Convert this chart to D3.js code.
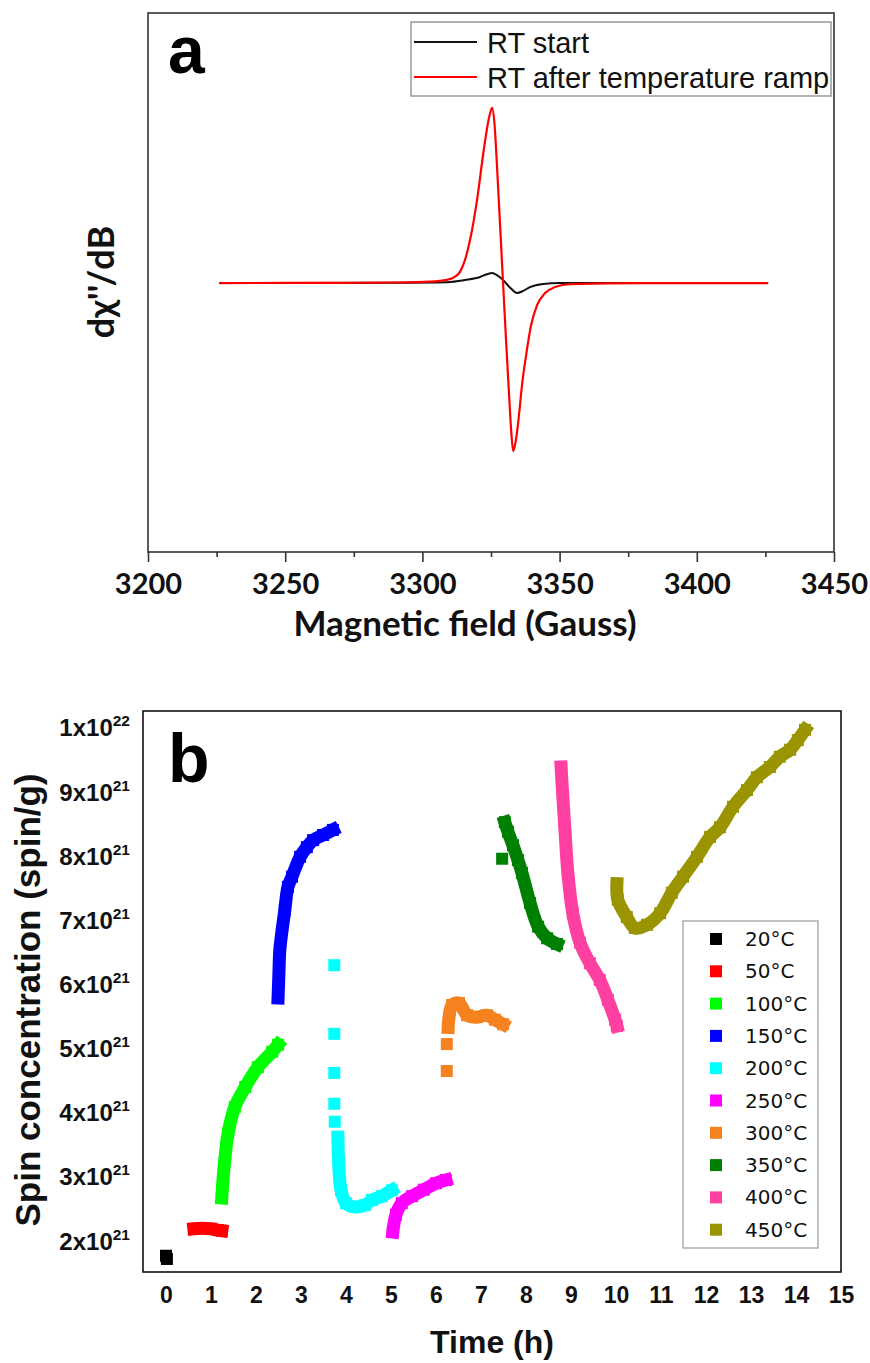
<!DOCTYPE html>
<html><head><meta charset="utf-8">
<script src="https://cdn.jsdelivr.net/npm/d3@7"></script>
<style>body{margin:0;background:#fff} svg{display:block}</style>
</head><body>
<svg id="c" width="870" height="1363"></svg>
<script>
// ---------- Panel a data ----------
const fieldTicks = [3200, 3250, 3300, 3350, 3400, 3450];
const fieldMinorTicks = [3225, 3275, 3325, 3375, 3425];
const legendA = ["RT start", "RT after temperature ramp"];
const colorsA = ["#111111", "#ff0000"];
// [field (G), dχ''/dB (arb.)]
const rtStart = [[3226,0],[3290,0.002],[3309,0.005],[3315.5,0.017],[3321,0.034],[3323.5,0.05],[3325.4,0.057],
  [3327.2,0.045],[3329.4,0.017],[3331.9,-0.025],[3334.5,-0.057],[3336.7,-0.045],[3339.2,-0.023],[3344,-0.005],
  [3350,0],[3426,0]];
const rtAfter = [[3226,0],[3270,0.001],[3290,0.003],[3302.8,0.008],[3309,0.018],[3311.9,0.036],[3313.7,0.063],
  [3315.5,0.13],[3317.3,0.24],[3319.9,0.47],[3322.4,0.76],[3324.3,0.94],[3325.4,0.995],[3326.3,0.90],
  [3327.2,0.66],[3328.3,0.33],[3329.4,0],[3330.5,-0.33],[3331.6,-0.64],[3332.5,-0.87],[3333.1,-0.955],
  [3334.1,-0.89],[3335.2,-0.75],[3336.3,-0.58],[3337.8,-0.41],[3339.6,-0.24],[3341.8,-0.125],[3344.7,-0.057],
  [3348.3,-0.023],[3353.8,-0.006],[3380,0],[3426,0]];

// ---------- Panel b data ----------
const timeTicks = [0,1,2,3,4,5,6,7,8,9,10,11,12,13,14,15];
const spinTicks = [2,3,4,5,6,7,8,9,10];            // x10^21 spin/g
const spinTickMain = ["2x10","3x10","4x10","5x10","6x10","7x10","8x10","9x10","1x10"];
const spinTickExp  = ["21","21","21","21","21","21","21","21","22"];
const tempLabels = ["20°C","50°C","100°C","150°C","200°C","250°C","300°C","350°C","400°C","450°C"];
const tempColors = ["#000000","#ff0000","#00ff00","#0000ff","#00ffff","#ff00ff","#f5821f","#008000","#ff40a2","#9a9400"];
// [time (h), spin concentration (x10^21 spin/g)]
const s20Points = [[0,1.77],[0.02,1.72]];
const s50Band = [[0.62,2.19],[0.8,2.2],[1.0,2.19],[1.15,2.17],[1.24,2.16]];
const s100Band = [[1.24,2.67],[1.29,3.15],[1.38,3.68],[1.53,4.09],[1.76,4.40],[2.04,4.71],[2.36,4.95],[2.49,5.06]];
const s150Band = [[2.49,5.79],[2.51,6.18],[2.53,6.54],[2.64,7.16],[2.71,7.52],[2.80,7.68],[2.98,7.99],[3.13,8.14],[3.27,8.25],[3.49,8.33],[3.71,8.41]];
const s200Points = [[3.74,6.30],[3.74,5.23],[3.74,4.62],[3.74,4.14],[3.75,3.86]];
const s200Band = [[3.82,3.62],[3.84,3.18],[3.89,2.79],[4.0,2.59],[4.2,2.53],[4.42,2.56],[4.58,2.64],[4.8,2.70],[5.02,2.79]];
const s250Band = [[5.04,2.14],[5.11,2.41],[5.24,2.59],[5.47,2.70],[5.73,2.80],[6.0,2.90],[6.22,2.95]];
const s300Points = [[6.24,4.65],[6.24,5.07]];
const s300Band = [[6.27,5.33],[6.36,5.68],[6.51,5.71],[6.69,5.52],[6.91,5.49],[7.13,5.52],[7.31,5.45],[7.49,5.38]];
const s350Points = [[7.47,7.96]];
const s350Band = [[7.53,8.53],[7.60,8.38],[7.71,8.17],[7.82,7.94],[7.91,7.74],[8.09,7.27],[8.27,6.90],[8.47,6.72],[8.69,6.63]];
const s400Band = [[8.78,9.39],[8.80,9.14],[8.87,8.36],[8.93,7.74],[9.04,7.11],[9.2,6.65],[9.42,6.33],[9.64,6.07],[9.82,5.76],[9.98,5.45],[10.02,5.35]];
const s450Band = [[10.02,7.57],[10.04,7.32],[10.24,7.05],[10.42,6.88],[10.69,6.93],[10.98,7.11],[11.24,7.43],[11.49,7.68],
  [11.80,7.99],[12.09,8.30],[12.31,8.45],[12.6,8.77],[12.91,9.03],[13.13,9.23],[13.42,9.39],[13.64,9.55],[13.87,9.66],[14.04,9.81],[14.2,9.97]];

const seriesB = [
  {pts: s20Points, band: []},
  {pts: [], band: s50Band},
  {pts: [], band: s100Band},
  {pts: [], band: s150Band},
  {pts: s200Points, band: s200Band},
  {pts: [], band: s250Band},
  {pts: s300Points, band: s300Band},
  {pts: s350Points, band: s350Band},
  {pts: [], band: s400Band},
  {pts: [], band: s450Band}
];

const svg = d3.select("#c");
const ARIAL = "'Liberation Sans', Arial, sans-serif";
const CAL = "Lato, 'Liberation Sans', sans-serif";

// ================= Panel a =================
const xa = d3.scaleLinear().domain([3200, 3450]).range([148, 834]);
const ya = d3.scaleLinear().domain([-1.528, 1.534]).range([552, 13]);
const ga = svg.append("g");

const axA = ga.append("g").attr("transform", "translate(0,552)")
  .call(d3.axisBottom(xa).tickValues(fieldTicks).tickSize(10).tickPadding(11).tickFormat(d3.format("d")));
axA.select(".domain").remove();
axA.selectAll("line").attr("stroke", "#333").attr("stroke-width", 1.6);
axA.selectAll("text").attr("font-family", CAL).attr("font-weight", "bold").attr("font-size", 29).attr("fill", "#111");
const axAm = ga.append("g").attr("transform", "translate(0,552)")
  .call(d3.axisBottom(xa).tickValues(fieldMinorTicks).tickSize(5).tickFormat(""));
axAm.select(".domain").remove();
axAm.selectAll("line").attr("stroke", "#333").attr("stroke-width", 1.6);

const lineA = d3.line().x(d => xa(d[0])).y(d => ya(d[1])).curve(d3.curveMonotoneX);
[rtStart, rtAfter].forEach((s, i) => {
  ga.append("path").attr("d", lineA(s)).attr("fill", "none").attr("stroke", colorsA[i])
    .attr("stroke-width", i ? 2.2 : 2).attr("stroke-linejoin", "round");
});

ga.append("rect").attr("x", 148).attr("y", 13).attr("width", 686).attr("height", 539)
  .attr("fill", "none").attr("stroke", "#333").attr("stroke-width", 1.6);

// legend a
const lgA = ga.append("g");
lgA.append("rect").attr("x", 411).attr("y", 22).attr("width", 420).attr("height", 74)
  .attr("fill", "#fff").attr("stroke", "#999").attr("stroke-width", 1.5);
legendA.forEach((t, i) => {
  const y = 42 + i * 35;
  lgA.append("line").attr("x1", 414).attr("x2", 477).attr("y1", y).attr("y2", y)
    .attr("stroke", colorsA[i]).attr("stroke-width", 2.2);
  lgA.append("text").attr("x", 487).attr("y", y + 10.5).text(t)
    .attr("font-family", ARIAL).attr("font-size", 29).attr("fill", "#111");
});

ga.append("text").attr("x", 168).attr("y", 73).text("a")
  .attr("font-family", ARIAL).attr("font-weight", "bold").attr("font-size", 66).attr("fill", "#000");
ga.append("text").attr("transform", "translate(114,282) rotate(-90)").attr("text-anchor", "middle")
  .text("dχ''/dB").attr("font-family", CAL).attr("font-weight", "bold").attr("font-size", 36).attr("fill", "#111");
ga.append("text").attr("x", 465).attr("y", 636).attr("text-anchor", "middle").text("Magnetic field (Gauss)")
  .attr("font-family", CAL).attr("font-weight", "bold").attr("font-size", 35).attr("fill", "#111");

// ================= Panel b =================
const xb = d3.scaleLinear().domain([0, 15]).range([166, 841]);
const yb = d3.scaleLinear().domain([2, 10]).range([1241, 1241 - 8 * 64.14]);
const gb = svg.append("g");

const axB = gb.append("g").attr("transform", "translate(0,1272)")
  .call(d3.axisBottom(xb).tickValues(timeTicks).tickSize(0).tickPadding(14.7).tickFormat(d3.format("d")));
axB.select(".domain").remove();
axB.selectAll("text").attr("font-family", ARIAL).attr("font-weight", "bold").attr("font-size", 23).attr("fill", "#111");

const yLab = gb.append("g").selectAll("text").data(spinTicks).join("text")
  .attr("x", 130).attr("y", d => yb(d) + 8.5).attr("text-anchor", "end")
  .attr("font-family", ARIAL).attr("font-weight", "bold").attr("font-size", 24).attr("fill", "#111");
yLab.append("tspan").text((d, i) => spinTickMain[i]);
yLab.append("tspan").attr("dy", -10).attr("font-size", 15.5).text((d, i) => spinTickExp[i]);

const lineB = d3.line().x(d => xb(d[0])).y(d => yb(d[1])).curve(d3.curveCatmullRom);
const SQ = 12;
seriesB.forEach((s, i) => {
  const g = gb.append("g").attr("fill", tempColors[i]);
  if (s.band.length) {
    g.append("path").attr("d", lineB(s.band)).attr("fill", "none").attr("stroke", tempColors[i])
      .attr("stroke-width", 13).attr("stroke-linejoin", "round").attr("stroke-linecap", "square");
  }
  g.selectAll("rect").data(s.pts.concat(s.band)).join("rect")
    .attr("x", d => xb(d[0]) - SQ / 2).attr("y", d => yb(d[1]) - SQ / 2)
    .attr("width", SQ).attr("height", SQ);
});

gb.append("rect").attr("x", 143).attr("y", 711).attr("width", 698).attr("height", 561)
  .attr("fill", "none").attr("stroke", "#111").attr("stroke-width", 1.6);

// legend b
const lgB = gb.append("g");
lgB.append("rect").attr("x", 683).attr("y", 921).attr("width", 135).attr("height", 327)
  .attr("fill", "#fff").attr("stroke", "#a0a0a0").attr("stroke-width", 1.3);
tempLabels.forEach((t, i) => {
  const y = 939 + i * 32.3;
  lgB.append("rect").attr("x", 716 - 6).attr("y", y - 6).attr("width", 12).attr("height", 12).attr("fill", tempColors[i]);
  lgB.append("text").attr("x", 745).attr("y", y + 7).text(t)
    .attr("font-family", "'DejaVu Sans', Verdana, sans-serif").attr("font-size", 20).attr("fill", "#111");
});

gb.append("text").attr("x", 168).attr("y", 782).text("b")
  .attr("font-family", ARIAL).attr("font-weight", "bold").attr("font-size", 68).attr("fill", "#000");
gb.append("text").attr("transform", "translate(40,1000) rotate(-90)").attr("text-anchor", "middle")
  .text("Spin concentration (spin/g)").attr("font-family", ARIAL).attr("font-weight", "bold")
  .attr("font-size", 35).attr("fill", "#111");
gb.append("text").attr("x", 492).attr("y", 1353).attr("text-anchor", "middle").text("Time (h)")
  .attr("font-family", ARIAL).attr("font-weight", "bold").attr("font-size", 32).attr("fill", "#111");
</script>
</body></html>
